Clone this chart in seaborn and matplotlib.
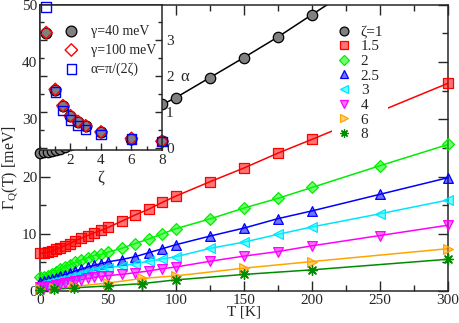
import matplotlib
matplotlib.use("Agg")
import matplotlib.pyplot as plt
import seaborn as sns
from matplotlib.lines import Line2D
from matplotlib.colors import to_rgba
from matplotlib.ticker import MultipleLocator

# temperatures (K)
T_dense = [0, 3, 6, 9, 12, 15, 18, 22, 26, 30, 35, 40, 45, 50, 60, 70, 80, 90,
           100, 125, 150, 175, 200, 250, 300]
T_sparse = [0, 10, 25, 50, 75, 100, 150, 200, 300]

# Gamma_Q(T) in meV for each zeta
g_z1 = [24.2, 24.25, 24.35, 24.5, 24.7, 24.9, 25.1, 25.5, 25.9, 26.3, 26.9, 27.5,
        28.1, 28.7, 29.8, 30.8, 31.7, 32.6, 33.8, 37.3, 40.8, 44.4, 48.3, 56.0, 63.5]
g_z15 = [6.6, 6.65, 6.8, 7.0, 7.3, 7.6, 7.9, 8.3, 8.8, 9.2, 9.7, 10.2, 10.6, 11.1,
         12.2, 13.3, 14.3, 15.5, 16.6, 19.1, 21.5, 24.1, 26.5, 31.4, 36.3]
g_z2 = [2.4, 2.5, 2.7, 3.0, 3.4, 3.8, 4.2, 4.6, 5.0, 5.4, 5.8, 6.2, 6.4, 6.8, 7.45,
        8.3, 9.1, 10.0, 10.9, 12.6, 14.5, 16.2, 18.1, 21.9, 25.6]
g_z25 = [1.6, 1.7, 1.9, 2.1, 2.35, 2.6, 2.85, 3.2, 3.5, 3.8, 4.2, 4.5, 4.8, 5.1, 5.5,
         6.0, 6.7, 7.4, 8.1, 9.6, 11.0, 12.65, 14.0, 16.9, 19.8]
g_z3 = [1.1, 1.2, 1.35, 1.5, 1.7, 1.9, 2.1, 2.4, 2.7, 2.95, 3.3, 3.55, 3.8, 4.1, 4.4,
        4.8, 5.2, 5.6, 6.0, 7.45, 8.55, 9.9, 11.2, 13.5, 15.9]
g_z4 = [0.7, 0.75, 0.85, 0.95, 1.1, 1.25, 1.4, 1.6, 1.8, 2.0, 2.2, 2.4, 2.55, 2.7,
        2.9, 3.2, 3.5, 3.9, 4.2, 5.2, 6.1, 6.9, 7.9, 9.7, 11.5]
g_z6 = [0.35, 0.5, 0.8, 1.4, 2.2, 2.65, 4.0, 5.15, 7.4]
g_z8 = [0.2, 0.3, 0.55, 0.9, 1.3, 1.95, 2.9, 3.7, 5.55]

labels = ["ζ=1", "1.5", "2", "2.5", "3", "4", "6", "8"]

# inset: alpha vs zeta
zeta = [0.4, 1, 1.5, 2, 2.5, 3, 4, 6, 8]
alpha_g40 = [3.2, 1.62, 1.17, 0.9, 0.74, 0.62, 0.45, 0.27, 0.2]
alpha_g100 = [3.22, 1.64, 1.19, 0.91, 0.75, 0.63, 0.46, 0.28, 0.2]
alpha_pi = [3.93, 1.57, 1.05, 0.79, 0.63, 0.52, 0.39, 0.26, 0.2]

sns.set_style("ticks")
plt.rcParams["font.family"] = ["Liberation Serif", "DejaVu Serif"]
plt.rcParams["mathtext.fontset"] = "custom"
plt.rcParams["mathtext.rm"] = "Liberation Serif"
plt.rcParams["mathtext.it"] = "Liberation Serif:italic"

fig = plt.figure(figsize=(4.6, 3.23), dpi=100)
ax = fig.add_axes([0.087, 0.099, 0.887, 0.886])

series = [
    (T_dense, g_z1, "o", "#808080", "black", "black", 7.5),
    (T_dense, g_z15, "s", "#ff0000", "#ff0000", "#ff0000", 6.5),
    (T_dense, g_z2, "D", "#00ff00", "#00ee00", "#00ee00", 6),
    (T_dense, g_z25, "^", "#0000ff", "#0000ff", "#0000ff", 7),
    (T_dense, g_z3, "<", "#00ffff", "#00e5ff", "#00e5ff", 7),
    (T_dense, g_z4, "v", "#ff00ff", "#ff00ff", "#ff00ff", 7),
    (T_sparse, g_z6, ">", "#ffa500", "#ffa500", "#ffa500", 7),
    (T_sparse, g_z8, (8, 2, 0), "#008b00", "#008b00", "#008b00", 7),
]

handles = []
for (t, g, m, fill, edge, lc, ms), lab in zip(series, labels):
    sns.lineplot(x=t, y=g, ax=ax, color=lc, lw=1.1, legend=False, zorder=2)
    fa = 1.0 if m == "o" else 0.55
    face = to_rgba(fill, fa)
    if isinstance(m, tuple):
        sns.scatterplot(x=t, y=g, ax=ax, marker=m, s=ms**2, color=edge,
                        linewidth=1.0, legend=False, zorder=3, clip_on=False)
    else:
        sns.scatterplot(x=t, y=g, ax=ax, marker=m, s=ms**2, color=face,
                        edgecolor=edge, linewidth=0.9, legend=False, zorder=3,
                        clip_on=False)
    handles.append(Line2D([], [], ls="none", marker=m, ms=ms * 0.85,
                          mfc=face if not isinstance(m, tuple) else edge,
                          mec=edge, mew=0.9, label=lab))

ax.set_xlim(0, 300)
ax.set_ylim(0, 50)
ax.xaxis.set_major_locator(MultipleLocator(50))
ax.xaxis.set_minor_locator(MultipleLocator(25))
ax.yaxis.set_major_locator(MultipleLocator(10))
ax.yaxis.set_minor_locator(MultipleLocator(5))
ax.tick_params(which="both", direction="in", top=True, right=True, labelsize=11,
               width=1.0, pad=2)
ax.tick_params(which="major", length=7)
ax.tick_params(which="minor", length=4)
for s in ax.spines.values():
    s.set_linewidth(1.1)
ax.set_xlabel("T [K]", fontsize=11, va="top")
ax.xaxis.set_label_coords(0.5, -0.05)
ax.set_ylabel("Γ$_{\\rm Q}$(T) [meV]", fontsize=11.5, va="center")
ax.yaxis.set_label_coords(-0.072, 0.43)

leg = ax.legend(handles=handles, loc="upper left", bbox_to_anchor=(0.715, 0.945),
                fontsize=11, frameon=True, framealpha=1, handlelength=1.0,
                handletextpad=0.6, labelspacing=0.06, borderpad=0.3,
                borderaxespad=0)
leg.get_frame().set_edgecolor("none")
leg.get_frame().set_facecolor("white")
leg.set_zorder(5)

# inset
axi = fig.add_axes([0.087, 0.537, 0.265, 0.448])
axi.set_facecolor("white")
sns.scatterplot(x=zeta, y=alpha_g40, ax=axi, marker="o", s=60, color="#808080",
                edgecolor="black", linewidth=0.9, label="γ=40 meV", clip_on=False)
sns.scatterplot(x=zeta, y=alpha_g100, ax=axi, marker="D", s=40, color="none",
                edgecolor="#ff0000", linewidth=1.0, label="γ=100 meV", clip_on=False)
sns.scatterplot(x=zeta, y=alpha_pi, ax=axi, marker="s", s=45, color="none",
                edgecolor="#0000ff", linewidth=1.0, label="α=π/(2ζ)", clip_on=False)
axi.set_xlim(0, 8)
axi.set_ylim(-0.03, 3.99)
axi.set_xticks([2, 4, 6, 8])
axi.xaxis.set_minor_locator(MultipleLocator(1))
axi.yaxis.set_major_locator(MultipleLocator(1))
axi.yaxis.set_minor_locator(MultipleLocator(0.5))
axi.tick_params(which="both", direction="in", left=True, right=True,
                labelleft=False, labelright=True, labelsize=11, width=1.0, pad=3)
axi.tick_params(which="major", length=5)
axi.tick_params(which="minor", length=3)
for s in axi.spines.values():
    s.set_linewidth(1.1)
axi.yaxis.set_label_position("right")
axi.set_ylabel("α", rotation=0, fontsize=12, labelpad=8, va="center")
axi.set_xlabel("ζ", fontsize=12, labelpad=2)
lgi = axi.legend(loc="upper left", bbox_to_anchor=(0.2, 0.86), fontsize=10,
                 frameon=False, handlelength=1.0, handletextpad=0.9,
                 labelspacing=0.4, borderpad=0, borderaxespad=0)

fig.savefig("out.png", dpi=100)
